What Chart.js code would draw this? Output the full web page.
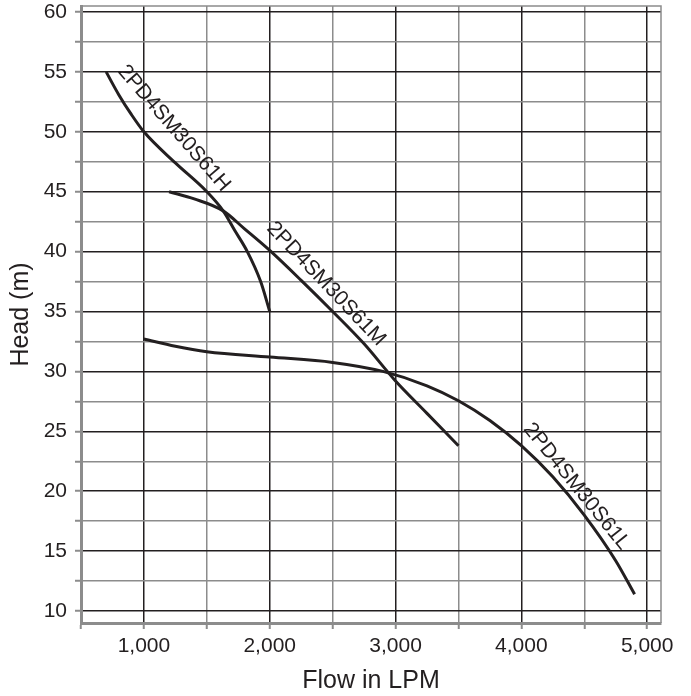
<!DOCTYPE html>
<html>
<head>
<meta charset="utf-8">
<script src="https://cdn.jsdelivr.net/npm/chart.js@4/dist/chart.umd.min.js"></script>
<style>
  body { margin: 0; background: #fff; }
  #wrap { width: 691px; height: 696px; }
</style>
</head>
<body>
<div id="wrap"><canvas id="pumpChart"></canvas></div>
<script>
// pump curves (flow in LPM, head in m)
const hFlow = [700, 800, 900, 1000, 1250, 1500, 1630, 1720, 1822, 1928, 2000];
const hHead = [55, 53.1, 51.45, 50, 47.4, 45, 43.4, 41.8, 40, 37.5, 35];

const mFlow = [1200, 1400, 1630, 1800, 2000, 2250, 2500, 2750, 3000, 3250, 3500];
const mHead = [45, 44.4, 43.4, 41.9, 40.1, 37.6, 35.0, 32.3, 29.2, 26.5, 23.8];

const lFlow = [1000, 1250, 1500, 2000, 2500, 2900, 3250, 3500, 3750, 4000, 4250, 4500, 4750, 4900];
const lHead = [32.7, 32.1, 31.65, 31.2, 30.75, 30.0, 28.8, 27.55, 25.9, 23.8, 21.2, 18.0, 14.2, 11.4];

const seriesNames = ['2PD4SM30S61H', '2PD4SM30S61M', '2PD4SM30S61L'];

// tick positions (labels only on every 1,000 and every 5)
const xTicks = [500, 1000, 1500, 2000, 2500, 3000, 3500, 4000, 4500, 5000];
const yTicks = [10, 12.5, 15, 17.5, 20, 22.5, 25, 27.5, 30, 32.5, 35, 37.5, 40, 42.5, 45, 47.5, 50, 52.5, 55, 57.5, 60];

const textColor = '#231f20';
const fontFamily = '"Liberation Sans", Arial, sans-serif';

function toPoints(xs, ys) {
    return xs.map((x, i) => ({ x: x, y: ys[i] }));
}

function curve(name, xs, ys) {
    return {
        label: name,
        data: toPoints(xs, ys),
        showLine: true,
        borderColor: '#231f20',
        borderWidth: 3,
        pointRadius: 0,
        cubicInterpolationMode: 'monotone',
        fill: false
    };
}

// text written along each curve, placed in data units
const curveLabels = {
    id: 'curveLabels',
    afterDatasetsDraw(chart) {
        const c = chart.ctx;
        const xs = chart.scales.x;
        const ys = chart.scales.y;
        const spots = [
            { text: seriesNames[0], x: 1239, y: 50.3, angle: 49 },
            { text: seriesNames[1], x: 2448, y: 37.3, angle: 46.5 },
            { text: seriesNames[2], x: 4439, y: 20.4, angle: 51 }
        ];
        c.save();
        c.font = '21px ' + fontFamily;
        c.fillStyle = textColor;
        c.textAlign = 'center';
        c.textBaseline = 'middle';
        spots.forEach(s => {
            c.save();
            c.translate(xs.getPixelForValue(s.x), ys.getPixelForValue(s.y));
            c.rotate(s.angle * Math.PI / 180);
            c.fillText(s.text, 0, 0);
            c.restore();
        });
        c.restore();
    },
    afterDraw(chart) {
        // thin frame on top and right
        const a = chart.chartArea;
        const c = chart.ctx;
        c.save();
        c.strokeStyle = '#8c8c8c';
        c.lineWidth = 1.5;
        c.beginPath();
        c.moveTo(a.left, a.top);
        c.lineTo(a.right, a.top);
        c.lineTo(a.right, a.bottom);
        c.stroke();
        c.restore();
    }
};

const ctx = document.getElementById('pumpChart').getContext('2d');

const pumpChart = new Chart(ctx, {
    type: 'scatter',
    data: {
        datasets: [
            curve(seriesNames[0], hFlow, hHead),
            curve(seriesNames[1], mFlow, mHead),
            curve(seriesNames[2], lFlow, lHead)
        ]
    },
    options: {
        responsive: true,
        maintainAspectRatio: false,
        animation: false,
        layout: { padding: { top: 6, right: 30, left: 0, bottom: 0 } },
        plugins: {
            legend: { display: false },
            tooltip: { enabled: false }
        },
        scales: {
            x: {
                type: 'linear',
                min: 500,
                max: 5110,
                afterBuildTicks: s => { s.ticks = xTicks.map(v => ({ value: v })); },
                afterFit: s => { s.height = 73; s.paddingLeft = 0; s.paddingRight = 0; },
                border: { color: '#8c8c8c', width: 3 },
                grid: {
                    color: c => (c.tick && c.tick.value % 1000 === 0) ? '#231f20' : '#8c8c8c',
                    lineWidth: 1.5,
                    tickLength: 6,
                    tickColor: '#8c8c8c',
                    tickWidth: 2
                },
                ticks: {
                    autoSkip: false,
                    maxRotation: 0,
                    padding: 5,
                    color: textColor,
                    font: { family: fontFamily, size: 21 },
                    callback: v => (v % 1000 === 0) ? v.toLocaleString('en-US') : ''
                },
                title: {
                    display: true,
                    text: 'Flow in LPM',
                    color: textColor,
                    font: { family: fontFamily, size: 25, lineHeight: 1 },
                    padding: { top: 0, bottom: 2 }
                }
            },
            y: {
                type: 'linear',
                min: 9,
                max: 60.5,
                afterBuildTicks: s => { s.ticks = yTicks.map(v => ({ value: v })); },
                afterFit: s => { s.width = 81; s.paddingTop = 0; s.paddingBottom = 0; },
                border: { color: '#8c8c8c', width: 3 },
                grid: {
                    color: c => (c.tick && c.tick.value % 5 === 0) ? '#231f20' : '#8c8c8c',
                    lineWidth: 1.5,
                    tickLength: 6,
                    tickColor: '#8c8c8c',
                    tickWidth: 2
                },
                ticks: {
                    autoSkip: false,
                    padding: 8,
                    color: textColor,
                    font: { family: fontFamily, size: 21 },
                    callback: v => (v % 5 === 0) ? String(v) : ''
                },
                title: {
                    display: true,
                    text: 'Head (m)',
                    color: textColor,
                    font: { family: fontFamily, size: 25, lineHeight: 1 },
                    padding: { top: 9, bottom: 0 }
                }
            }
        }
    },
    plugins: [curveLabels]
});
</script>
</body>
</html>
